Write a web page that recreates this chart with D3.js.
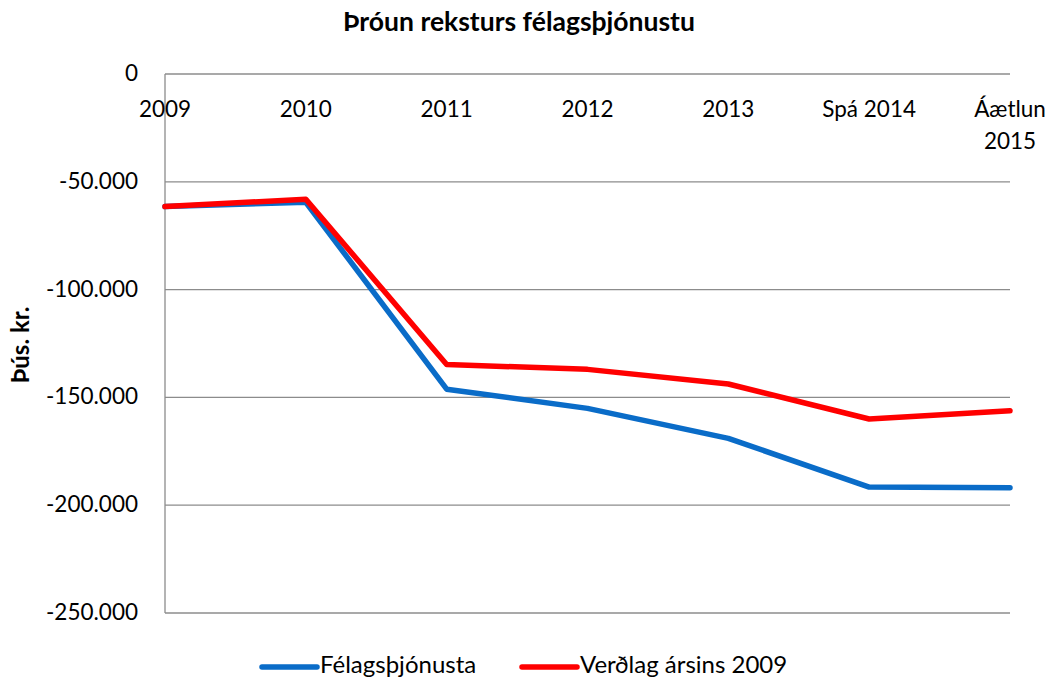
<!DOCTYPE html>
<html>
<head>
<meta charset="utf-8">
<script src="https://cdn.jsdelivr.net/npm/d3@7"></script>
<style>
body { margin: 0; background: #fff; }
text { font-family: Lato, "Noto Sans", sans-serif; fill: #000; }
</style>
</head>
<body>
<svg id="chart" width="1051" height="680"></svg>
<script>
// categories and series (þús. kr.)
var categories = ["2009", "2010", "2011", "2012", "2013", "Spá 2014", "Áætlun 2015"];
var felagsthjonusta = [-61500, -59500, -146200, -155100, -169000, -191600, -191900];
var verdlag2009 = [-61500, -58100, -134700, -137000, -143800, -160000, -156200];
var yTicks = [0, -50000, -100000, -150000, -200000, -250000];
var seriesNames = ["Félagsþjónusta", "Verðlag ársins 2009"];
var seriesColors = ["#0A6CC8", "#FF0000"];

var svg = d3.select("#chart");
var plotLeft = 165, plotRight = 1010, plotTop = 74, plotBottom = 613;

var x = d3.scalePoint().domain(categories).range([plotLeft, plotRight]);
var y = d3.scaleLinear().domain([-250000, 0]).range([plotBottom, plotTop]);

var fmt = function (v) {
    return d3.format(",")(v).replace(/,/g, ".").replace("−", "-");
};

// gridlines
svg.append("g").selectAll("line").data(yTicks).enter().append("line")
    .attr("x1", plotLeft).attr("x2", plotRight)
    .attr("y1", function (d) { return y(d); })
    .attr("y2", function (d) { return y(d); })
    .attr("stroke", "#8c8c8c").attr("stroke-width", 1.3);

// y axis line
svg.append("line")
    .attr("x1", plotLeft).attr("x2", plotLeft).attr("y1", plotTop).attr("y2", plotBottom)
    .attr("stroke", "#8c8c8c").attr("stroke-width", 1.3);

// y tick labels
svg.append("g").selectAll("text").data(yTicks).enter().append("text")
    .attr("x", 138).attr("y", function (d) { return y(d) + 7; })
    .attr("text-anchor", "end").style("font-size", "22.5px")
    .text(function (d) { return fmt(d); });

// category labels (top)
var catG = svg.append("g");
categories.forEach(function (c) {
    var parts = c == "Áætlun 2015" ? ["Áætlun", "2015"] : [c];
    var t = catG.append("text").attr("text-anchor", "middle").style("font-size", "22.5px");
    parts.forEach(function (p, i) {
        t.append("tspan").attr("x", x(c)).attr("y", 117 + i * 32).text(p);
    });
});

// lines
var line = d3.line()
    .x(function (d, i) { return x(categories[i]); })
    .y(function (d) { return y(d); });

[felagsthjonusta, verdlag2009].forEach(function (s, i) {
    svg.append("path").datum(s)
        .attr("d", line)
        .attr("fill", "none")
        .attr("stroke", seriesColors[i])
        .attr("stroke-width", 5.5)
        .attr("stroke-linejoin", "round")
        .attr("stroke-linecap", "round");
});

// title
svg.append("text").attr("x", 519).attr("y", 31)
    .attr("text-anchor", "middle")
    .style("font-size", "26.5px").style("font-weight", "bold")
    .text("Þróun reksturs félagsþjónustu");

// y axis title
svg.append("text")
    .attr("transform", "translate(29,345) rotate(-90)")
    .attr("text-anchor", "middle")
    .style("font-size", "24px").style("font-weight", "bold")
    .text("Þús. kr.");

// legend
var legendX = [262, 522];
seriesNames.forEach(function (n, i) {
    svg.append("line")
        .attr("x1", legendX[i]).attr("x2", legendX[i] + 55)
        .attr("y1", 667).attr("y2", 667)
        .attr("stroke", seriesColors[i]).attr("stroke-width", 5.5)
        .attr("stroke-linecap", "round");
    svg.append("text")
        .attr("x", legendX[i] + 58).attr("y", 673)
        .style("font-size", "24px")
        .text(n);
});
</script>
</body>
</html>
